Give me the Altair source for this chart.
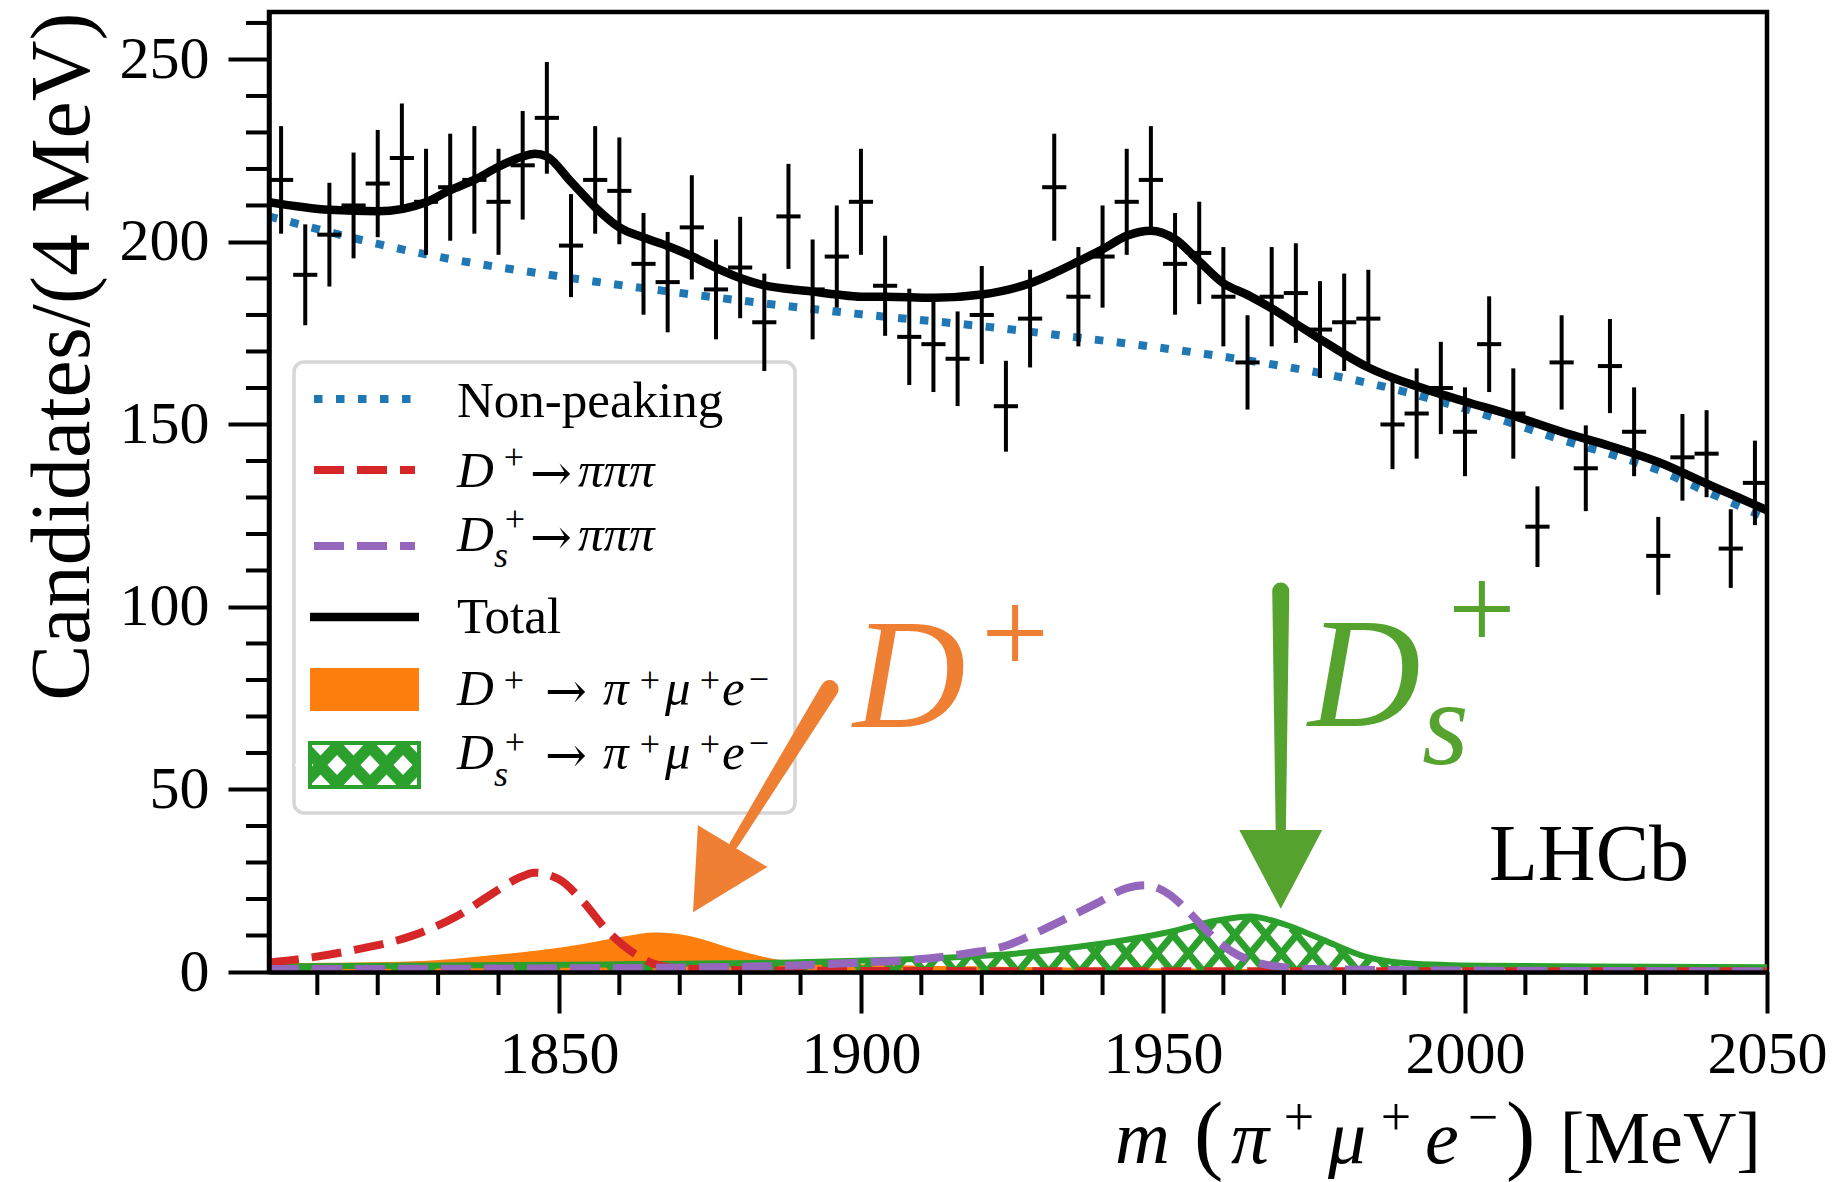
import numpy as np
import pandas as pd
import altair as alt

FONT = "Liberation Serif"
ARROW_FONT = "DejaVu Serif"

# ---------------------------------------------------------------- ranges
X_MIN, X_MAX = 1802.0, 2050.0
Y_MIN, Y_MAX = 0.0, 263.0
PLOT_W, PLOT_H = 1498, 960
PX_PER_MEV = PLOT_W / (X_MAX - X_MIN)
PX_PER_COUNT = PLOT_H / (Y_MAX - Y_MIN)

# ---------------------------------------------------------------- data: candidates per 4 MeV bin
bin_centres = list(range(1804, 2050, 4))
counts = [217, 191, 202, 210, 216, 223, 211, 215, 217, 211, 221, 234, 199, 217, 214, 194,
          189, 204, 187, 193, 178, 207, 187, 196, 211, 188, 174, 172, 168, 180, 155, 179,
          215, 185, 196, 211, 217, 194, 197, 185, 167, 185, 186, 176, 178, 179, 150, 153,
          160, 148, 172, 153, 122, 167, 138, 166, 148, 114, 141, 142, 116, 134]

# ---------------------------------------------------------------- fit components
total_m = [1802, 1812, 1820, 1828, 1832, 1836, 1840, 1844, 1846, 1848, 1852, 1856, 1860,
           1864, 1868, 1872, 1876, 1880, 1884, 1888, 1892, 1896, 1900, 1904, 1912, 1920,
           1928, 1932, 1936, 1940, 1944, 1948, 1952, 1956, 1960, 1964, 1968, 1972, 1976,
           1980, 1984, 1988, 1992, 1996, 2000, 2008, 2016, 2024, 2032, 2040, 2044, 2048, 2050]
total_v = [210.9, 208.8, 208.4, 210.9, 214.2, 217.0, 220.6, 223.4, 224.2, 223.4, 216.5, 209.5,
           204.0, 201.2, 198.9, 196.1, 192.9, 190.1, 188.1, 187.1, 186.4, 185.6, 185.0, 185.0,
           184.7, 185.6, 188.7, 191.5, 194.7, 198.0, 201.7, 203.1, 200.8, 194.7, 188.7, 185.5,
           181.8, 177.6, 173.4, 169.3, 165.6, 162.8, 160.5, 158.3, 156.3, 152.4, 148.0, 144.1,
           139.7, 133.8, 130.9, 128.0, 126.5]

nonpeak_m = [1802, 1828, 1852, 1875, 1900, 1919, 1938, 1957, 1976, 1988, 2000, 2008, 2016,
             2024, 2032, 2040, 2050]
nonpeak_v = [207.0, 196.6, 190.1, 185.0, 180.2, 177.1, 173.4, 169.3, 164.1, 159.8, 154.3,
             150.2, 145.8, 141.9, 137.5, 131.6, 124.3]

dp3pi_m = [1802, 1809, 1816, 1826, 1833, 1839, 1843, 1846, 1850, 1854, 1858, 1862, 1866,
           1871, 1880, 1900, 1950, 2050]
dp3pi_v = [2.6, 4.0, 6.0, 10.1, 15.2, 21.5, 25.5, 27.2, 25.4, 19.3, 11.3, 5.6, 2.1, 0.9,
           0.5, 0.3, 0.2, 0.2]

ds3pi_m = [1802, 1860, 1885, 1900, 1909, 1918, 1924, 1930, 1935, 1939, 1944, 1947, 1951,
           1954, 1958, 1961, 1966, 1969, 1975, 2000, 2050]
ds3pi_v = [0.8, 1.1, 1.6, 2.6, 3.4, 5.2, 7.2, 11.5, 15.5, 18.8, 23.0, 23.8, 21.3, 16.9,
           10.1, 6.0, 2.4, 1.5, 0.8, 0.4, 0.2]

dp_sig_m = [1802, 1824, 1841, 1854, 1861, 1866, 1872, 1879, 1887.5, 1892, 1900, 1925, 1950,
            2000, 2050]
dp_sig_v = [2.4, 2.8, 4.9, 7.7, 9.8, 10.8, 9.7, 6.2, 3.1, 2.6, 2.1, 1.4, 1.0, 0.6, 0.4]

ds_sig_m = [1802, 1850, 1890, 1923, 1936, 1950, 1959, 1964.5, 1970, 1976.5, 1983.5, 1990.5,
            2003, 2021, 2050]
ds_sig_v = [1.5, 2.0, 2.7, 4.7, 6.9, 10.6, 14.1, 15.2, 13.1, 8.8, 4.2, 2.4, 1.7, 1.5, 1.3]

# ---------------------------------------------------------------- ticks
x_major = [1850, 1900, 1950, 2000, 2050]
x_minor = [1810, 1820, 1830, 1840, 1860, 1870, 1880, 1890, 1910, 1920, 1930, 1940,
           1960, 1970, 1980, 1990, 2010, 2020, 2030, 2040]
y_major = [0, 50, 100, 150, 200, 250]
y_minor = [10, 20, 30, 40, 60, 70, 80, 90, 110, 120, 130, 140, 160, 170, 180, 190,
           210, 220, 230, 240, 260]

# ---------------------------------------------------------------- colours
C_BLUE, C_RED, C_PURPLE = "#1f77b4", "#d62728", "#9467bd"
C_ORANGE, C_GREEN = "#ff7f0e", "#2ca02c"
C_ANN_ORANGE, C_ANN_GREEN = "#ee7f33", "#55a22e"

# ---------------------------------------------------------------- tables
pts = pd.DataFrame({"m": bin_centres, "count": counts})
pts["lo"] = pts["count"] - np.sqrt(pts["count"])
pts["hi"] = pts["count"] + np.sqrt(pts["count"])
pts["mlo"] = pts["m"] - 2
pts["mhi"] = pts["m"] + 2


def curve(ms, vs):
    return pd.DataFrame({"m": ms, "v": vs})


def hatch(ms, vs, spacing_px=31.0, slope_px=1.2, margin=0.3):
    """Cross-hatch strokes filling the region under a curve."""
    s = slope_px * PX_PER_MEV / PX_PER_COUNT
    step = spacing_px / PX_PER_MEV
    grid = np.linspace(X_MIN - 30, X_MAX + 30, 30000)
    top = np.interp(grid, ms, vs) - margin
    rows = []
    for a in np.arange(X_MIN - 30, X_MAX + 30, step):
        up = (grid >= a) & (s * (grid - a) >= top)
        if up.any():
            i = np.argmax(up)
            rows.append((a, 0.0, grid[i], s * (grid[i] - a)))
        down = (grid <= a) & (s * (a - grid) >= top)
        if down.any():
            i = np.nonzero(down)[0][-1]
            rows.append((a, 0.0, grid[i], s * (a - grid[i])))
    return pd.DataFrame(rows, columns=["m", "v", "m2", "v2"])


# ---------------------------------------------------------------- encodings
X_SCALE = alt.Scale(domain=[X_MIN, X_MAX], nice=False, zero=False)
Y_SCALE = alt.Scale(domain=[Y_MIN, Y_MAX], nice=False, zero=False)
AXIS_COMMON = dict(grid=False, domainColor="black", domainWidth=4.5, tickColor="black",
                   tickWidth=4, tickSize=41, labelFont=FONT, labelFontSize=60,
                   labelColor="black", labelFlush=False, labelOverlap=False,
                   labelBound=False, format="d", zindex=1)
X_AXIS = alt.Axis(values=x_major, title=None, labelPadding=12, **AXIS_COMMON)
Y_AXIS = alt.Axis(values=y_major, title="Candidates/(4 MeV)", titleFont=FONT,
                  titleFontSize=84, titleFontWeight="normal", titleColor="black",
                  titleAngle=270, titleAlign="right", titleBaseline="alphabetic",
                  titleX=-181, titleY=0, labelPadding=19, **AXIS_COMMON)


def xenc(f):
    return alt.X(f"{f}:Q", scale=X_SCALE, axis=X_AXIS)


def yenc(f):
    return alt.Y(f"{f}:Q", scale=Y_SCALE, axis=Y_AXIS)


def line_layer(df, color, width, dash=None):
    kw = dict(color=color, strokeWidth=width, interpolate="monotone", clip=True,
              strokeCap="butt")
    if dash:
        kw["strokeDash"] = dash
    return alt.Chart(df).mark_line(**kw).encode(x=xenc("m"), y=yenc("v"))


layers = []

# signal components
layers.append(alt.Chart(curve(dp_sig_m, dp_sig_v)).mark_area(
    color=C_ORANGE, opacity=1, interpolate="monotone", clip=True
).encode(x=xenc("m"), y=yenc("v")))

layers.append(alt.Chart(hatch(ds_sig_m, ds_sig_v)).mark_rule(
    color=C_GREEN, strokeWidth=7, clip=True
).encode(x=xenc("m"), x2=alt.X2("m2"), y=yenc("v"), y2=alt.Y2("v2")))
layers.append(line_layer(curve(ds_sig_m, ds_sig_v), C_GREEN, 6))

# background components and total
layers.append(line_layer(curve(dp3pi_m, dp3pi_v), C_RED, 8, [30, 13]))
layers.append(line_layer(curve(ds3pi_m, ds3pi_v), C_PURPLE, 8, [30, 13]))
layers.append(line_layer(curve(nonpeak_m, nonpeak_v), C_BLUE, 8, [8.5, 13.5]))
layers.append(line_layer(curve(total_m, total_v), "black", 8.5))

# ---------------------------------------------------------------- legend (pixel layout)
one = pd.DataFrame({"k": [0]})


def text_at(text, px, py, size, italic=False, align="left", color="black", font=FONT):
    kw = dict(text=text, font=font, fontSize=size, align=align,
              baseline="alphabetic", color=color)
    if italic:
        kw["fontStyle"] = "italic"
    return alt.Chart(one).mark_text(**kw).encode(x=alt.value(px), y=alt.value(py))


def hline_at(px0, px1, py, color, width, dash=None):
    kw = dict(color=color, strokeWidth=width, strokeCap="butt")
    if dash:
        kw["strokeDash"] = dash
    return alt.Chart(one).mark_rule(**kw).encode(
        x=alt.value(px0), x2=alt.value(px1), y=alt.value(py))


def rect_at(px0, px1, py0, py1, **kw):
    return alt.Chart(one).mark_rect(**kw).encode(
        x=alt.value(px0), x2=alt.value(px1), y=alt.value(py0), y2=alt.value(py1))


layers.append(rect_at(25, 526, 350, 801, fill="white", stroke="#d6d6d6",
                      strokeWidth=3.5, cornerRadius=10))
layers.append(hline_at(45, 144, 387, C_BLUE, 8, [8.5, 13.5]))
layers.append(hline_at(45, 146, 458, C_RED, 8, [30, 13]))
layers.append(hline_at(45, 146, 534, C_PURPLE, 8, [30, 13]))
layers.append(hline_at(41, 150, 605, "black", 8.5))
layers.append(rect_at(41, 150, 656, 699, fill=C_ORANGE, strokeWidth=0))
layers.append(rect_at(41, 150, 731, 775, fill=C_GREEN, strokeWidth=0))
DIAMOND = "M0,-1.05L1,0L0,1.05L-1,0Z"
for dx, dy in ([(x, 753) for x in (35, 68, 101, 134, 167)] +
               [(x, 733.5) for x in (51.5, 84.5, 117.5, 150.5)] +
               [(x, 772.5) for x in (51.5, 84.5, 117.5, 150.5)]):
    layers.append(alt.Chart(one).mark_point(
        shape=DIAMOND, filled=True, color="white", size=361, opacity=1, strokeWidth=0
    ).encode(x=alt.value(dx), y=alt.value(dy)))
layers.append(rect_at(41, 150, 731, 775, fillOpacity=0, stroke=C_GREEN, strokeWidth=4))

FS, FSUP, FARR = 51, 36, 50
PI, MU, ARR, MINUS = "\u03c0", "\u03bc", "\u2192", "\u2212"
# (text, x, y, size, italic, align)
legend_text = [
    ("Non-peaking", 188, 405, FS, False, "left"),
    # D+ -> pi pi pi
    ("D", 188, 475, FS, True, "left"), ("+", 245, 457, FSUP, False, "center"),
    (PI * 3, 309, 475, FS, True, "left"),
    # Ds+ -> pi pi pi
    ("D", 188, 539, FS, True, "left"), ("+", 246, 519, FSUP, False, "center"),
    ("s", 225, 555, FSUP, True, "left"),
    (PI * 3, 309, 539, FS, True, "left"),
    ("Total", 188, 621, FS, False, "left"),
]
legend_arrows = [(261, 478), (261, 542)]
for base, sub in ((693, False), (757, True)):
    legend_text += [
        ("D", 188, base, FS, True, "left"),
        ("+", 246 if sub else 245, base - (15 if sub else 13), FSUP, False, "center"),
        (PI, 334, base, FS, True, "left"),
        ("+", 381, base - 13, FSUP, False, "center"), (MU, 396, base, FS, True, "left"),
        ("+", 441, base - 13, FSUP, False, "center"), ("e", 453, base, FS, True, "left"),
        (MINUS, 490, base - 14, FSUP, False, "center"),
    ]
    legend_arrows.append((276, base + 3))
    if sub:
        legend_text.append(("s", 225, base + 17, FSUP, True, "left"))
for t, px, py, size, it, al in legend_text:
    layers.append(text_at(t, px, py, size, it, al))
for px, py in legend_arrows:
    layers.append(text_at(ARR, px, py, FARR, font=ARROW_FONT))

# ---------------------------------------------------------------- data points
layers.append(alt.Chart(pts).mark_rule(color="black", strokeWidth=4).encode(
    x=xenc("m"), y=yenc("lo"), y2=alt.Y2("hi")))
layers.append(alt.Chart(pts).mark_rule(color="black", strokeWidth=4).encode(
    x=xenc("mlo"), x2=alt.X2("mhi"), y=yenc("count")))

# ---------------------------------------------------------------- minor ticks
layers.append(alt.Chart(pd.DataFrame({"m": x_minor})).mark_rule(
    color="black", strokeWidth=4).encode(
    x=xenc("m"), y=alt.value(PLOT_H), y2=alt.value(PLOT_H + 23)))
layers.append(alt.Chart(pd.DataFrame({"v": y_minor})).mark_rule(
    color="black", strokeWidth=4).encode(
    y=yenc("v"), x=alt.value(0), x2=alt.value(-23)))

# ---------------------------------------------------------------- annotations (data units)
HEAD = "M0,0L-1,-1.9L1,-1.9Z"
orange_shaft = pd.DataFrame({"m": [1894.8, 1879.0], "v": [77.5, 35.0],
                             "w": [18, 9], "o": [0, 1]})
green_shaft = pd.DataFrame({"m": [1969.5, 1969.5], "v": [104.4, 37.0],
                            "w": [17, 10], "o": [0, 1]})
for shaft, col in ((orange_shaft, C_ANN_ORANGE), (green_shaft, C_ANN_GREEN)):
    layers.append(alt.Chart(shaft).mark_trail(color=col).encode(
        x=xenc("m"), y=yenc("v"), order=alt.Order("o:Q"),
        size=alt.Size("w:Q", scale=None, legend=None)))

layers.append(alt.Chart(pd.DataFrame({"m": [1872.2], "v": [16.4]})).mark_point(
    shape=HEAD, filled=True, size=6561, angle=31, color=C_ANN_ORANGE, opacity=1,
    strokeWidth=0).encode(x=xenc("m"), y=yenc("v")))
layers.append(alt.Chart(pd.DataFrame({"m": [1969.5], "v": [17.3]})).mark_point(
    shape=HEAD, filled=True, size=6889, angle=0, color=C_ANN_GREEN, opacity=1,
    strokeWidth=0).encode(x=xenc("m"), y=yenc("v")))


def text_data(text, m, v, size, color, italic=False, align="left"):
    kw = dict(text=text, font=FONT, fontSize=size, align=align,
              baseline="alphabetic", color=color)
    if italic:
        kw["fontStyle"] = "italic"
    return alt.Chart(pd.DataFrame({"m": [m], "v": [v]})).mark_text(**kw).encode(
        x=xenc("m"), y=yenc("v"))


layers.append(text_data("D", 1898.7, 67.1, 156, C_ANN_ORANGE, italic=True))
layers.append(text_data("+", 1925.5, 81.9, 120, C_ANN_ORANGE, align="center"))
layers.append(text_data("D", 1974.0, 67.4, 156, C_ANN_GREEN, italic=True))
layers.append(text_data("s", 1992.9, 57.0, 120, C_ANN_GREEN, italic=True))
layers.append(text_data("+", 2002.8, 88.5, 120, C_ANN_GREEN, align="center"))

# ---------------------------------------------------------------- experiment label, x title
layers.append(text_at("LHCb", 1220, 868, 80))
FT, FTSUP = 76, 54
xtitle = [
    ("m", 846, 1151, FT, True, "left"),
    ("(", 925, 1151, 88, False, "left"),
    (PI, 962, 1151, FT, True, "left"),
    ("+", 1030, 1123, FTSUP, False, "center"),
    (MU, 1059, 1151, FT, True, "left"),
    ("+", 1127, 1123, FTSUP, False, "center"),
    ("e", 1156, 1151, FT, True, "left"),
    (MINUS, 1214, 1123, FTSUP, False, "center"),
    (")", 1237, 1151, 88, False, "left"),
    ("[MeV]", 1492, 1151, 74, False, "right"),
]
for t, px, py, size, it, al in xtitle:
    layers.append(text_at(t, px, py, size, it, al))

chart = alt.layer(*layers).properties(
    width=PLOT_W, height=PLOT_H,
    padding={"left": 269, "top": 12, "right": 76, "bottom": 210},
    autosize=alt.AutoSizeParams(type="none"),
).configure(font=FONT, background="white").configure_view(
    stroke="black", strokeWidth=4.5)

chart.save("out.html", embed_options={"renderer": "svg", "actions": False})
